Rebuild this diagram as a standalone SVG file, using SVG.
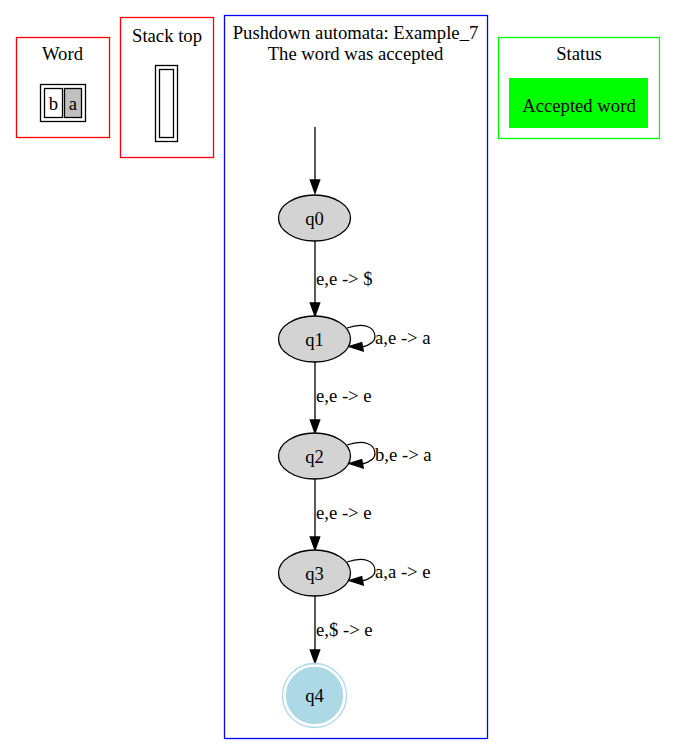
<svg xmlns="http://www.w3.org/2000/svg" width="675" height="754" viewBox="0 0 675 754">
<style>
text{font-family:"Liberation Serif","Times New Roman",serif;font-size:18.67px;fill:#000}
.c{text-anchor:middle}
.st{fill:#d3d3d3;stroke:#000;stroke-width:1.3}
.e{fill:none;stroke:#000;stroke-width:1.3}
.ah{fill:#000;stroke:#000;stroke-width:1.3}
</style>
<rect width="675" height="754" fill="#fff"/>
<g id="word">
<rect x="16.5" y="37.5" width="93" height="100" fill="none" stroke="#ff0000" stroke-width="1.3"/>
<text class="c" x="62.5" y="60">Word</text>
<rect x="40.5" y="84.5" width="45" height="37" fill="none" stroke="#000" stroke-width="1.3"/>
<rect x="44.5" y="88.5" width="18" height="29" fill="#fff" stroke="#000" stroke-width="1.3"/>
<rect x="64.5" y="88.5" width="17" height="29" fill="#c0c0c0" stroke="#000" stroke-width="1.3"/>
<text class="c" x="53.5" y="110">b</text>
<text class="c" x="73" y="110">a</text>
</g>
<g id="stack">
<rect x="120.5" y="17.5" width="93" height="140" fill="none" stroke="#ff0000" stroke-width="1.3"/>
<text class="c" x="167" y="41.5">Stack top</text>
<rect x="155.5" y="65.5" width="22" height="76" fill="none" stroke="#000" stroke-width="1.3"/>
<rect x="159.5" y="69.5" width="14" height="68" fill="none" stroke="#000" stroke-width="1.3"/>
</g>
<g id="status">
<rect x="498.5" y="37.5" width="161" height="101" fill="none" stroke="#00ff00" stroke-width="1.3"/>
<text class="c" x="579" y="60">Status</text>
<rect x="509" y="78" width="139" height="50" fill="#00ff00"/>
<text class="c" x="579" y="111.5">Accepted word</text>
</g>
<g id="cluster">
<rect x="224.5" y="15.5" width="263" height="723" fill="none" stroke="#0000ff" stroke-width="1.3"/>
<text class="c" x="355.5" y="39">Pushdown automata: Example_7</text>
<text class="c" x="355.5" y="59.5">The word was accepted</text>
</g>
<g id="connectors">
<path class="e" d="M315,127 L315,180"/>
<polygon class="ah" points="310.3,180 315,193 319.7,180"/>
<path class="e" d="M315,241 L315,303"/>
<polygon class="ah" points="310.3,303 315,316 319.7,303"/>
<text x="316" y="285">e,e -&gt; $</text>
<path class="e" d="M347,328 C364,322 375,327 375,337 C375,342 370,345 362,347"/>
<polygon class="ah" points="361.7,342.5 349,346.5 363.3,351"/>
<text x="375" y="343.5">a,e -&gt; a</text>
<path class="e" d="M315,362 L315,420"/>
<polygon class="ah" points="310.3,420 315,433 319.7,420"/>
<text x="316" y="402">e,e -&gt; e</text>
<path class="e" d="M347,445 C364,439 375,444 375,454 C375,459 370,462 362,464"/>
<polygon class="ah" points="361.7,459.5 349,463.5 363.3,468"/>
<text x="375" y="460.5">b,e -&gt; a</text>
<path class="e" d="M315,479 L315,537"/>
<polygon class="ah" points="310.3,537 315,550 319.7,537"/>
<text x="316" y="519">e,e -&gt; e</text>
<path class="e" d="M347,562 C364,556 375,561 375,571 C375,576 370,579 362,581"/>
<polygon class="ah" points="361.7,576.5 349,580.5 363.3,585"/>
<text x="375" y="577.5">a,a -&gt; e</text>
<path class="e" d="M315,596 L315,650"/>
<polygon class="ah" points="310.3,650 315,663 319.7,650"/>
<text x="316" y="636">e,$ -&gt; e</text>
</g>
<g id="q0"><ellipse class="st" cx="314.5" cy="218" rx="36" ry="23"/><text class="c" x="314.5" y="224.5">q0</text></g>
<g id="q1"><ellipse class="st" cx="314.5" cy="339" rx="36" ry="23"/><text class="c" x="314.5" y="345.5">q1</text></g>
<g id="q2"><ellipse class="st" cx="314.5" cy="456" rx="36" ry="23"/><text class="c" x="314.5" y="462.5">q2</text></g>
<g id="q3"><ellipse class="st" cx="314.5" cy="573" rx="36" ry="23"/><text class="c" x="314.5" y="579.5">q3</text></g>
<g id="q4">
<circle cx="314.5" cy="695.5" r="32" fill="none" stroke="#add8e6" stroke-width="1.3"/>
<circle cx="314.5" cy="695.5" r="28" fill="#add8e6" stroke="#add8e6" stroke-width="1.3"/>
<text class="c" x="314.5" y="702">q4</text>
</g>
</svg>
